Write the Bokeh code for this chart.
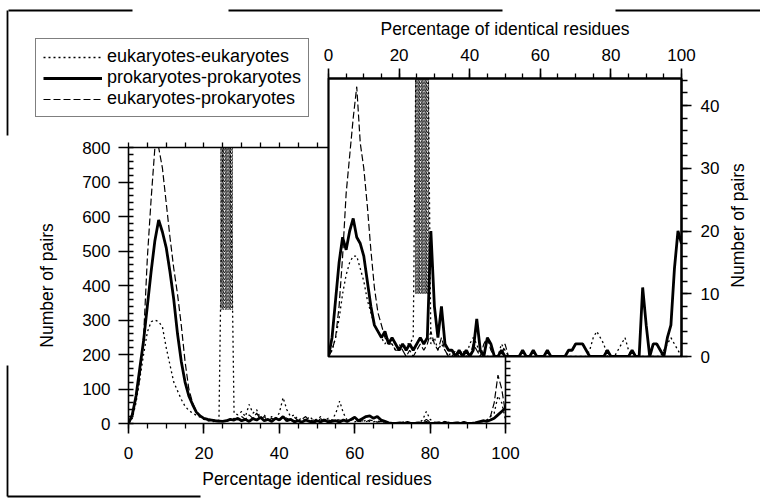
import numpy as np
from bokeh.plotting import figure
from bokeh.models import Range1d, LinearAxis, FixedTicker, Label, Legend, LegendItem, GridBox, Column
from bokeh.embed import file_html
from bokeh.resources import INLINE

# ---------------- data ----------------
pct = list(range(0, 101))

main_euk = [0, 15, 60, 130, 200, 265, 295, 300, 295, 280,
            220, 170, 120, 95, 70, 50, 38, 30, 24, 18,
            12, 8, 6, 5, 10, 800, 800, 800, 30, 25,
            35, 20, 55, 30, 40, 15, 25, 10, 20, 15,
            30, 75, 40, 20, 25, 10, 15, 8, 20, 10,
            12, 20, 8, 15, 10, 30, 65, 30, 10, 12,
            5, 8, 4, 10, 6, 5, 8, 3, 5, 2,
            0, 3, 0, 5, 2, 0, 4, 2, 10, 35,
            12, 3, 5, 2, 6, 3, 0, 5, 2, 4,
            0, 2, 0, 4, 6, 10, 20, 30, 80, 60,
            10]
main_prok = [0, 25, 80, 160, 240, 340, 440, 530, 590, 555,
             510, 440, 360, 260, 180, 120, 80, 55, 33, 22,
             15, 12, 10, 8, 7, 6, 8, 12, 10, 15,
             8, 12, 6, 14, 10, 18, 8, 12, 6, 15,
             10, 20, 8, 12, 5, 8, 4, 10, 6, 3,
             8, 5, 10, 4, 6, 8, 4, 10, 6, 12,
             18, 8, 14, 20, 22, 15, 20, 10, 6, 2,
             0, 0, 2, 0, 3, 0, 0, 2, 0, 3,
             0, 0, 2, 0, 3, 0, 0, 2, 0, 3,
             0, 0, 2, 5, 8, 6, 10, 15, 25, 35,
             45]
main_ep = [0, 20, 70, 130, 250, 480, 650, 800, 800, 740,
           640, 540, 450, 375, 285, 180, 100, 60, 35, 22,
           14, 10, 8, 6, 5, 8, 6, 10, 15, 10,
           20, 12, 25, 15, 30, 12, 20, 8, 15, 10,
           12, 20, 15, 10, 18, 8, 12, 20, 6, 10,
           8, 14, 6, 10, 8, 12, 10, 8, 6, 10,
           12, 6, 8, 5, 10, 8, 4, 6, 3, 2,
           0, 0, 3, 0, 0, 2, 0, 0, 3, 12,
           4, 0, 0, 3, 0, 2, 0, 0, 3, 0,
           2, 0, 0, 3, 5, 8, 20, 60, 140, 100,
           30]

inset_euk = [0, 1, 3, 6, 10, 13, 15, 16, 16, 14,
             12, 9, 7, 5, 4, 3, 2, 3, 2, 1,
             2, 1, 2, 2, 3, 60, 60, 60, 60, 2,
             3, 1, 2, 1, 0, 1, 0, 0, 1, 0,
             2, 3, 2, 0, 1, 0, 0, 0, 0, 2,
             1, 0, 0, 0, 0, 0, 0, 0, 0, 0,
             0, 0, 0, 0, 0, 0, 0, 0, 0, 0,
             0, 0, 0, 0, 1, 3, 4, 3, 2, 0,
             0, 0, 1, 2, 3, 1, 0, 0, 0, 0,
             0, 0, 0, 0, 0, 1, 2, 3, 2, 1,
             0]
inset_prok = [0, 3, 9, 15, 19, 17, 20, 22, 19, 18,
              16, 12, 8, 5, 4, 3, 4, 2, 3, 2,
              1, 2, 1, 2, 1, 2, 3, 2, 3, 20,
              8, 3, 8, 2, 1, 1, 0, 1, 0, 1,
              0, 1, 6, 1, 0, 3, 2, 0, 0, 1,
              0, 0, 0, 0, 0, 1, 0, 0, 1, 0,
              0, 0, 1, 0, 0, 0, 0, 0, 1, 1,
              2, 2, 2, 1, 0, 0, 0, 0, 0, 1,
              0, 0, 0, 0, 0, 0, 1, 0, 0, 11,
              5, 0, 2, 2, 1, 0, 3, 5, 14, 20,
              18]
inset_ep = [0, 1, 3, 8, 16, 26, 32, 38, 43, 34,
            30, 24, 17, 11, 7, 5, 3, 2, 2, 1,
            1, 1, 0, 1, 0, 1, 2, 1, 2, 4,
            2, 1, 3, 1, 0, 0, 1, 0, 0, 1,
            0, 2, 1, 0, 2, 3, 1, 0, 0, 0,
            2, 0, 0, 0, 0, 0, 0, 0, 0, 0,
            0, 0, 0, 0, 0, 0, 0, 0, 0, 0,
            0, 0, 0, 0, 0, 0, 0, 0, 0, 0,
            0, 0, 0, 0, 0, 0, 0, 0, 0, 0,
            0, 0, 0, 0, 0, 0, 0, 0, 0, 0,
            0]

# off-scale eukaryote spike (drawn as a dense band)
main_spike_x = [24.3, 27.7]
main_spike_y = [330, 800]
inset_spike_x = [24.5, 28.5]
inset_spike_y = [10, 60]

main_x_ticks = [0, 20, 40, 60, 80, 100]
main_x_minor = list(range(0, 101, 5))
main_y_ticks = [0, 100, 200, 300, 400, 500, 600, 700, 800]
main_y_minor = list(range(0, 801, 20))
main_top_ticks = list(range(0, 101, 5))
main_right_ticks = list(range(0, 801, 20))
inset_x_ticks = [0, 20, 40, 60, 80, 100]
inset_x_minor = list(range(0, 101, 5))
inset_y_ticks = [0, 10, 20, 30, 40]
inset_y_minor = list(range(0, 45, 2))

labels = ["eukaryotes-eukaryotes", "prokaryotes-prokaryotes", "eukaryotes-prokaryotes"]

# ---------------- geometry (page pixels) ----------------
W, H = 760, 498
AL, AR, AT, AB = 128, 505, 147, 423          # main frame
BL, BR, BT, BB = 328, 681, 78, 356           # inset frame
inset_top = (BB - BT) / ((BB - 105) / 40.0)  # 40 sits at y=105

FONT = "Liberation Sans"
FS = "17px"


def style(ax, mo, mi, no, ni, standoff, lw=1.6):
    ax.axis_line_color = "black"
    ax.axis_line_width = lw
    ax.major_tick_line_color = "black"
    ax.minor_tick_line_color = "black"
    ax.major_tick_line_width = 1.6
    ax.minor_tick_line_width = 1.3
    ax.major_tick_out = mo
    ax.major_tick_in = mi
    ax.minor_tick_out = no
    ax.minor_tick_in = ni
    ax.major_label_standoff = standoff
    ax.major_label_text_font = FONT
    ax.major_label_text_font_size = FS
    ax.major_label_text_color = "black"
    ax.axis_label_text_font = FONT
    ax.axis_label_text_font_size = "17.5px"
    ax.axis_label_text_font_style = "normal"
    ax.axis_label_text_color = "black"


def base(l, r, t, b, xr, yr, bg_alpha, border_alpha):
    f = figure(width=W, height=H, x_range=xr, y_range=yr,
               x_axis_type=None, y_axis_type=None,
               output_backend="svg", toolbar_location=None,
               min_border_left=l, min_border_right=W - r,
               min_border_top=t, min_border_bottom=H - b,
               outline_line_color=None,
               background_fill_color="white", background_fill_alpha=bg_alpha,
               border_fill_color="white", border_fill_alpha=border_alpha)
    f.grid.visible = False
    return f


HATCH = dict(fill_alpha=0, line_alpha=0, hatch_pattern="right_diagonal_line",
             hatch_scale=3.5, hatch_weight=1, hatch_color="black")

# ---------------- main panel ----------------
pA = base(AL, AR, AT, AB, Range1d(0, 100), Range1d(0, 800), 1, 1)

xb = LinearAxis(ticker=FixedTicker(ticks=main_x_ticks, minor_ticks=main_x_minor),
                axis_label="Percentage identical residues")
style(xb, 10, 0, 5, 0, 13)
xb.axis_label_standoff = 7
pA.add_layout(xb, "below")

yl = LinearAxis(ticker=FixedTicker(ticks=main_y_ticks, minor_ticks=main_y_minor),
                axis_label="Number of pairs")
style(yl, 10, 0, 0, 5, 8)
yl.axis_label_standoff = 22
pA.add_layout(yl, "left")

xa = LinearAxis(ticker=FixedTicker(ticks=[], minor_ticks=main_top_ticks))
style(xa, 0, 0, 5, 0, 0)
pA.add_layout(xa, "above")

ya = LinearAxis(ticker=FixedTicker(ticks=[], minor_ticks=main_right_ticks))
style(ya, 0, 0, 5, 0, 0)
pA.add_layout(ya, "right")

pA.quad(left=[main_spike_x[0]], right=[main_spike_x[1]], bottom=[main_spike_y[0]], top=[main_spike_y[1]], **HATCH)
pA.line(pct, main_euk, line_color="black", line_width=1.3, line_dash="2 3")
pA.line(pct, main_ep, line_color="black", line_width=1.2, line_dash="7 3")
pA.line(pct, main_prok, line_color="black", line_width=2.8)

# ---------------- inset panel ----------------
pB = base(BL, BR, BT, BB, Range1d(0, 100), Range1d(0, inset_top), 1, 0)
pB.outline_line_color = "black"
pB.outline_line_width = 2.2

xt = LinearAxis(ticker=FixedTicker(ticks=inset_x_ticks, minor_ticks=inset_x_minor),
                axis_label="Percentage of identical residues")
style(xt, 10, 0, 5, 0, 8, lw=2)
xt.axis_label_standoff = 7
pB.add_layout(xt, "above")

yr = LinearAxis(ticker=FixedTicker(ticks=inset_y_ticks, minor_ticks=inset_y_minor))
style(yr, 10, 0, 6, 0, 9, lw=2)
pB.add_layout(yr, "right")

pB.quad(left=[inset_spike_x[0]], right=[inset_spike_x[1]], bottom=[inset_spike_y[0]], top=[inset_spike_y[1]], **HATCH)
pB.line(pct, inset_euk, line_color="black", line_width=1.3, line_dash="2 3")
pB.line(pct, inset_ep, line_color="black", line_width=1.2, line_dash="7 3")
pB.line(pct, inset_prok, line_color="black", line_width=2.8)

# ---------------- overlay: legend, right title, scan border ----------------
pC = base(0, W, 0, H, Range1d(0, W), Range1d(H, 0), 0, 0)

pC.add_layout(Label(x=737, y=225, text="Number of pairs", angle=np.pi / 2,
                    text_align="center", text_baseline="middle",
                    text_font=FONT, text_font_size="17.5px", text_color="black"))

# legend keys (drawn off-view; only their styles are shown in the legend)
off = [-40, -30]
l1 = pC.line(x=off, y=off, line_color="black", line_width=1.3, line_dash="2 3")
l2 = pC.line(x=off, y=off, line_color="black", line_width=2.8)
l3 = pC.line(x=off, y=off, line_color="black", line_width=1.2, line_dash="7 3")
legend = Legend(items=[LegendItem(label=labels[0], renderers=[l1]),
                       LegendItem(label=labels[1], renderers=[l2]),
                       LegendItem(label=labels[2], renderers=[l3])],
                location=(35, H - 117), margin=0, padding=7, spacing=0,
                glyph_width=59, glyph_height=18, label_height=18, label_standoff=5,
                label_text_font=FONT, label_text_font_size="18px", label_text_color="black",
                border_line_color="black", border_line_width=1.8,
                background_fill_color="white", background_fill_alpha=1)
pC.add_layout(legend)

border_x0 = [8, 228, 615, 7, 7, 7]
border_x1 = [132, 502, 760, 7, 7, 200]
border_y0 = [10, 10, 10, 10, 365, 496]
border_y1 = [10, 10, 10, 135, 496, 496]
pC.segment(x0=border_x0, y0=border_y0, x1=border_x1, y1=border_y1,
           line_color="black", line_width=1.8)

layout = GridBox(children=[(Column(children=[pA]), 0, 0),
                           (Column(children=[pB]), 0, 0),
                           (Column(children=[pC]), 0, 0)])

open("out.html", "w").write(file_html(layout, INLINE))
